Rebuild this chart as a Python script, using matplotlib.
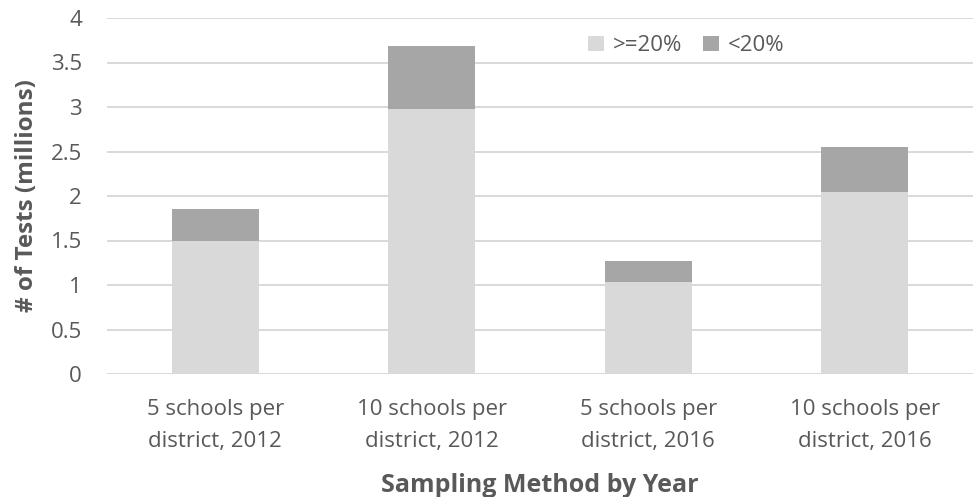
import matplotlib
matplotlib.use("Agg")
import matplotlib.pyplot as plt
import numpy as np

# Data (millions of tests)
categories = ["5 schools per\ndistrict, 2012", "10 schools per\ndistrict, 2012",
              "5 schools per\ndistrict, 2016", "10 schools per\ndistrict, 2016"]
above_20 = [1.50, 2.98, 1.03, 2.05]   # >=20%
below_20 = [0.35, 0.71, 0.24, 0.50]   # <20%
y_ticks = [0, 0.5, 1, 1.5, 2, 2.5, 3, 3.5, 4]
y_tick_labels = ["0", "0.5", "1", "1.5", "2", "2.5", "3", "3.5", "4"]

plt.rcParams["font.family"] = ["Open Sans", "DejaVu Sans"]
text_color = "#595959"
light = "#d9d9d9"
dark = "#a6a6a6"

fig = plt.figure(figsize=(9.77, 4.97), dpi=100)
ax = fig.add_axes([107 / 977, 1 - 374 / 497, 866 / 977, 356 / 497])

x = np.arange(len(categories))
ax.bar(x, above_20, width=0.4, color=light, label=">=20%", zorder=3)
ax.bar(x, below_20, width=0.4, bottom=above_20, color=dark, label="<20%", zorder=3)

ax.set_xlim(-0.5, len(categories) - 0.5)
ax.set_ylim(0, 4)
ax.set_yticks(y_ticks)
ax.set_yticklabels(y_tick_labels)
ax.set_xticks(x)
ax.set_xticklabels(categories, linespacing=1.7)

ax.grid(axis="y", color=light, linewidth=1.4, zorder=0)
ax.set_axisbelow(True)
for s in ax.spines.values():
    s.set_visible(False)

ax.tick_params(axis="y", length=0, pad=18, labelsize=16, labelcolor=text_color)
ax.tick_params(axis="x", length=0, pad=18, labelsize=16, labelcolor=text_color)

ax.set_ylabel("# of Tests (millions)", fontsize=17.5, fontweight="bold", color=text_color)
ax.yaxis.set_label_coords(-0.078, 0.5)
ax.set_xlabel("Sampling Method by Year", fontsize=18, fontweight="bold", color=text_color)
ax.xaxis.set_label_coords(0.5, -0.278)

leg = ax.legend(loc="center", bbox_to_anchor=(0.669, 0.922), ncol=2, frameon=False,
                fontsize=16, handlelength=0.7, handleheight=0.7,
                handletextpad=0.4, columnspacing=0.95, labelcolor=text_color)

fig.savefig("out.png", dpi=100)
